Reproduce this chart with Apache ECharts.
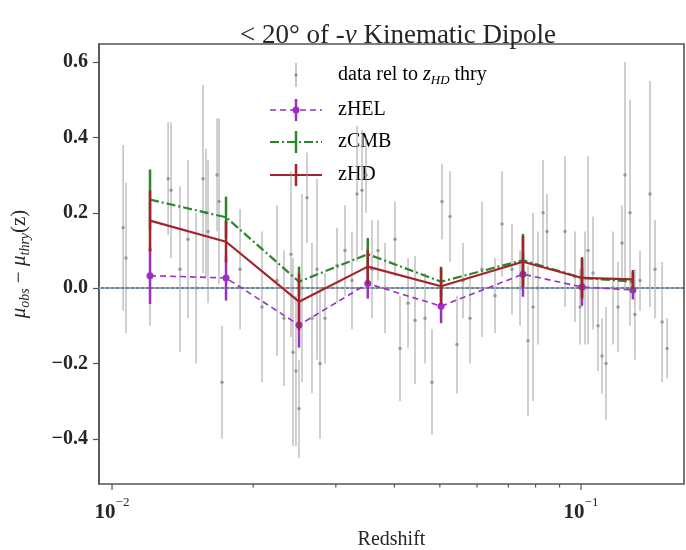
<!DOCTYPE html>
<html>
<head>
<meta charset="utf-8">
<script src="https://cdn.jsdelivr.net/npm/echarts@6/dist/echarts.min.js"></script>
<style>
  html, body { margin: 0; padding: 0; background: #ffffff; }
  #chart { width: 686px; height: 550px; }
</style>
</head>
<body>
<div id="chart"></div>
<script>
// Individual supernovae: redshift, residual and 1-sigma error
const dataZ = [0.01056, 0.01071, 0.01205, 0.01317, 0.01336, 0.01396, 0.01452, 0.01511, 0.01563, 0.01586,
  0.01602, 0.01675, 0.01691, 0.01716, 0.01875, 0.02088, 0.02248, 0.02326, 0.02408, 0.02431,
  0.02467, 0.02504, 0.02541, 0.02605, 0.02669, 0.02735, 0.02776, 0.02845, 0.03018, 0.03139,
  0.03248, 0.03329, 0.03412, 0.0348, 0.03584, 0.03691, 0.0382, 0.04012, 0.04112, 0.04277,
  0.04426, 0.04649, 0.04811, 0.05054, 0.05256, 0.0544, 0.05602, 0.05798, 0.06149, 0.06555,
  0.06785, 0.07126, 0.07412, 0.07709, 0.07901, 0.08097, 0.08299, 0.08462, 0.09245, 0.0971,
  0.09952, 0.10198, 0.10349, 0.10607, 0.1087, 0.11087, 0.11306, 0.11701, 0.11993, 0.1223,
  0.1241, 0.1272, 0.1303, 0.1336, 0.1403, 0.1438, 0.1489, 0.1526];
const dataMu = [0.16, 0.08, 0.10, 0.29, 0.26, 0.05, 0.13, 0.00, 0.29, 0.20,
  0.15, 0.30, 0.23, -0.25, 0.05, -0.05, 0.02, -0.08, 0.09, -0.17,
  -0.22, -0.32, 0.00, 0.24, -0.08, 0.05, -0.20, -0.08, 0.06, 0.10,
  0.02, 0.25, 0.26, 0.30, 0.05, 0.10, 0.00, 0.13, -0.16, -0.04,
  -0.085, -0.08, -0.25, 0.23, 0.19, -0.15, 0.02, -0.08, 0.05, -0.02,
  0.17, 0.05, 0.00, -0.14, -0.05, 0.00, 0.20, 0.15, 0.15, 0.03,
  -0.05, 0.00, 0.10, 0.04, -0.10, -0.18, -0.20, 0.00, -0.05, 0.12,
  0.30, 0.20, -0.07, 0.02, 0.25, 0.05, -0.09, -0.16];
const dataErr = [0.22, 0.20, 0.20, 0.15, 0.18, 0.22, 0.21, 0.20, 0.25, 0.17,
  0.19, 0.15, 0.22, 0.15, 0.16, 0.20, 0.20, 0.18, 0.22, 0.25,
  0.20, 0.13, 0.25, 0.12, 0.20, 0.24, 0.20, 0.12, 0.10, 0.12,
  0.13, 0.18, 0.16, 0.10, 0.13, 0.08, 0.12, 0.10, 0.14, 0.12,
  0.17, 0.12, 0.14, 0.10, 0.12, 0.13, 0.10, 0.12, 0.18, 0.10,
  0.14, 0.12, 0.10, 0.20, 0.25, 0.15, 0.14, 0.10, 0.20, 0.12,
  0.10, 0.15, 0.25, 0.15, 0.12, 0.10, 0.15, 0.15, 0.12, 0.10,
  0.30, 0.30, 0.12, 0.08, 0.30, 0.13, 0.16, 0.08];

// Binned residuals for the three redshift frames
const binZ = [0.01205, 0.0175, 0.02504, 0.0351, 0.0503, 0.0752, 0.1005, 0.129];
const helMu = [0.033, 0.027, -0.098, 0.012, -0.048, 0.037, 0.003, -0.005];
const helErr = [0.075, 0.060, 0.060, 0.040, 0.045, 0.060, 0.050, 0.025];
const cmbMu = [0.235, 0.188, 0.017, 0.090, 0.017, 0.074, 0.027, 0.017];
const cmbErr = [0.080, 0.055, 0.040, 0.043, 0.040, 0.070, 0.050, 0.025];
const hdMu = [0.179, 0.123, -0.036, 0.057, 0.005, 0.070, 0.027, 0.023];
const hdErr = [0.080, 0.055, 0.075, 0.045, 0.048, 0.068, 0.055, 0.025];

// Axis ticks
const yTicks = [-0.4, -0.2, 0.0, 0.2, 0.4, 0.6];
const xMajorTicks = [0.01, 0.1];
const xMinorTicks = [0.02, 0.03, 0.04, 0.05, 0.06, 0.07, 0.08, 0.09];

const X_MIN = 0.00938, X_MAX = 0.1658;
const Y_MIN = -0.52, Y_MAX = 0.648;
const FONT = 'Liberation Serif';
const TEXT = '#262626';

const colHEL = '#9a2fc4';
const colCMB = '#2a872a';
const colHD = '#a3232a';

function errorBars(name, zs, mus, errs, color, width, zIndex) {
  return {
    type: 'custom',
    name: name,
    z: zIndex,
    clip: true,
    silent: true,
    data: zs.map((x, i) => [x, mus[i] - errs[i], mus[i] + errs[i]]),
    encode: { x: 0, y: [1, 2] },
    renderItem: function (params, api) {
      const lo = api.coord([api.value(0), api.value(1)]);
      const hi = api.coord([api.value(0), api.value(2)]);
      return {
        type: 'line',
        shape: { x1: lo[0], y1: lo[1], x2: hi[0], y2: hi[1] },
        style: { stroke: color, lineWidth: width }
      };
    }
  };
}

function tickSeries(values, len) {
  return {
    type: 'custom',
    silent: true,
    clip: false,
    z: 10,
    data: values.map(v => [v, Y_MIN]),
    renderItem: function (params, api) {
      const p = api.coord([api.value(0), api.value(1)]);
      return {
        type: 'line',
        shape: { x1: p[0], y1: p[1], x2: p[0], y2: p[1] + len },
        style: { stroke: '#555', lineWidth: 1.2 }
      };
    }
  };
}

function pairs(zs, vs) { return zs.map((x, i) => [x, vs[i]]); }

// Legend drawn as line/bar keys with text
const legendX = 296, legendText = 338;
const legendRows = [75, 110, 142, 175];
function legendKey(y, color, dash, width, dot) {
  const items = [
    { type: 'line', shape: { x1: legendX - 26, y1: y, x2: legendX + 26, y2: y },
      style: { stroke: color, lineWidth: width, lineDash: dash } },
    { type: 'line', shape: { x1: legendX, y1: y - 11, x2: legendX, y2: y + 11 },
      style: { stroke: color, lineWidth: 2.5 } }
  ];
  if (dot) items.push({ type: 'circle', shape: { cx: legendX, cy: y, r: 3.5 }, style: { fill: color } });
  return items;
}

const legendGraphics = [].concat(
  [{ type: 'line', shape: { x1: legendX, y1: legendRows[0] - 12, x2: legendX, y2: legendRows[0] + 12 },
     style: { stroke: '#b4b4b4', lineWidth: 1.5 } },
   { type: 'circle', shape: { cx: legendX, cy: legendRows[0], r: 1.6 }, style: { fill: '#888' } }],
  legendKey(legendRows[1], colHEL, [6, 4], 1.6, true),
  legendKey(legendRows[2], colCMB, [9, 3, 2, 3], 2, false),
  legendKey(legendRows[3], colHD, null, 2, false)
);

const richText = {
  n: { fontFamily: FONT, fontSize: 20, color: TEXT, lineHeight: 24, verticalAlign: 'middle' },
  i: { fontFamily: FONT, fontSize: 20, fontStyle: 'italic', color: TEXT, lineHeight: 24, verticalAlign: 'middle' },
  sub: { fontFamily: FONT, fontSize: 13, fontStyle: 'italic', color: TEXT, lineHeight: 17, verticalAlign: 'bottom' }
};
const legendLabels = [
  '{n|data rel to }{i|z}{sub|HD}{n| thry}',
  '{n|zHEL}', '{n|zCMB}', '{n|zHD}'
];
legendLabels.forEach((t, k) => {
  legendGraphics.push({
    type: 'text', x: legendText, y: legendRows[k],
    style: { text: t, rich: richText, verticalAlign: 'middle', align: 'left' }
  });
});

const chart = echarts.init(document.getElementById('chart'), null, { renderer: 'canvas' });

chart.setOption({
  animation: false,
  backgroundColor: '#ffffff',
  title: {
    text: '{n|< 20° of -}{i|v}{n| Kinematic Dipole}',
    left: 393, top: 17, textAlign: 'center',
    textStyle: {
      fontWeight: 'normal',
      rich: {
        n: { fontFamily: FONT, fontSize: 27, fontWeight: 'normal', color: TEXT },
        i: { fontFamily: FONT, fontSize: 27, fontWeight: 'normal', fontStyle: 'italic', color: TEXT }
      }
    }
  },
  grid: {
    left: 99, right: 2, top: 44, bottom: 66,
    outerBoundsMode: 'none', containLabel: false,
    show: true, borderColor: '#555', borderWidth: 1.6
  },
  xAxis: {
    type: 'log', logBase: 10, min: X_MIN, max: X_MAX,
    name: 'Redshift', nameLocation: 'middle', nameGap: 46,
    nameTextStyle: { fontFamily: FONT, fontSize: 20, color: TEXT },
    axisLine: { show: true, lineStyle: { color: '#555', width: 1.6 } },
    axisTick: { show: false },
    splitLine: { show: false },
    minorTick: { show: false },
    axisLabel: {
      margin: 12, showMinLabel: false, showMaxLabel: false,
      formatter: function (v) {
        const e = Math.log10(v);
        if (Math.abs(e - Math.round(e)) > 1e-6) return '';
        return '{b|10}{s|−' + Math.abs(Math.round(e)) + '}';
      },
      rich: {
        b: { fontFamily: FONT, fontSize: 21, fontWeight: 'bold', color: TEXT, lineHeight: 27, verticalAlign: 'bottom' },
        s: { fontFamily: FONT, fontSize: 13, color: TEXT, lineHeight: 14, verticalAlign: 'top' }
      }
    }
  },
  yAxis: {
    type: 'value', min: Y_MIN, max: Y_MAX,
    name: '{i|μ}{sub|obs}{n| − }{i|μ}{sub|thry}{n|(z)}',
    nameLocation: 'middle', nameGap: 67, nameRotate: 90,
    nameTextStyle: {
      rich: {
        n: { fontFamily: FONT, fontSize: 21, color: TEXT, lineHeight: 26, verticalAlign: 'middle' },
        i: { fontFamily: FONT, fontSize: 21, fontStyle: 'italic', color: TEXT, lineHeight: 26, verticalAlign: 'middle' },
        sub: { fontFamily: FONT, fontSize: 14, fontStyle: 'italic', color: TEXT, lineHeight: 19, verticalAlign: 'bottom' }
      }
    },
    axisLine: { show: true, lineStyle: { color: '#555', width: 1.6 } },
    axisTick: { show: true, customValues: yTicks, length: 6, lineStyle: { color: '#555', width: 1.2 } },
    splitLine: { show: false },
    axisLabel: {
      customValues: yTicks, margin: 11,
      fontFamily: FONT, fontSize: 20, fontWeight: 'bold', color: TEXT,
      formatter: v => v.toFixed(1).replace('-', '−')
    }
  },
  graphic: legendGraphics,
  series: [
    errorBars('data', dataZ, dataMu, dataErr, 'rgba(150,150,150,0.6)', 1.5, 1),
    {
      type: 'scatter', name: 'data pts', z: 2, silent: true,
      data: pairs(dataZ, dataMu), symbolSize: 3.5,
      itemStyle: { color: '#8a8a8a' }
    },
    {
      type: 'line', name: 'zero', z: 3, silent: true, symbol: 'none',
      data: [[X_MIN, 0], [X_MAX, 0]],
      lineStyle: { color: '#82b8da', width: 2, type: [2, 3] }
    },
    errorBars('zHEL err', binZ, helMu, helErr, colHEL, 2.5, 4),
    {
      type: 'line', name: 'zHEL', z: 4, silent: true,
      data: pairs(binZ, helMu), symbol: 'circle', symbolSize: 7, showSymbol: true,
      itemStyle: { color: colHEL },
      lineStyle: { color: colHEL, width: 1.6, type: [6, 4] }
    },
    errorBars('zCMB err', binZ, cmbMu, cmbErr, colCMB, 2.5, 5),
    {
      type: 'line', name: 'zCMB', z: 5, silent: true, symbol: 'none',
      data: pairs(binZ, cmbMu),
      lineStyle: { color: colCMB, width: 2.2, type: [9, 3, 2, 3] }
    },
    errorBars('zHD err', binZ, hdMu, hdErr, colHD, 2.5, 6),
    {
      type: 'line', name: 'zHD', z: 6, silent: true, symbol: 'none',
      data: pairs(binZ, hdMu),
      lineStyle: { color: colHD, width: 2.2 }
    },
    tickSeries(xMajorTicks, 6),
    tickSeries(xMinorTicks, 3.5)
  ]
});
</script>
</body>
</html>
